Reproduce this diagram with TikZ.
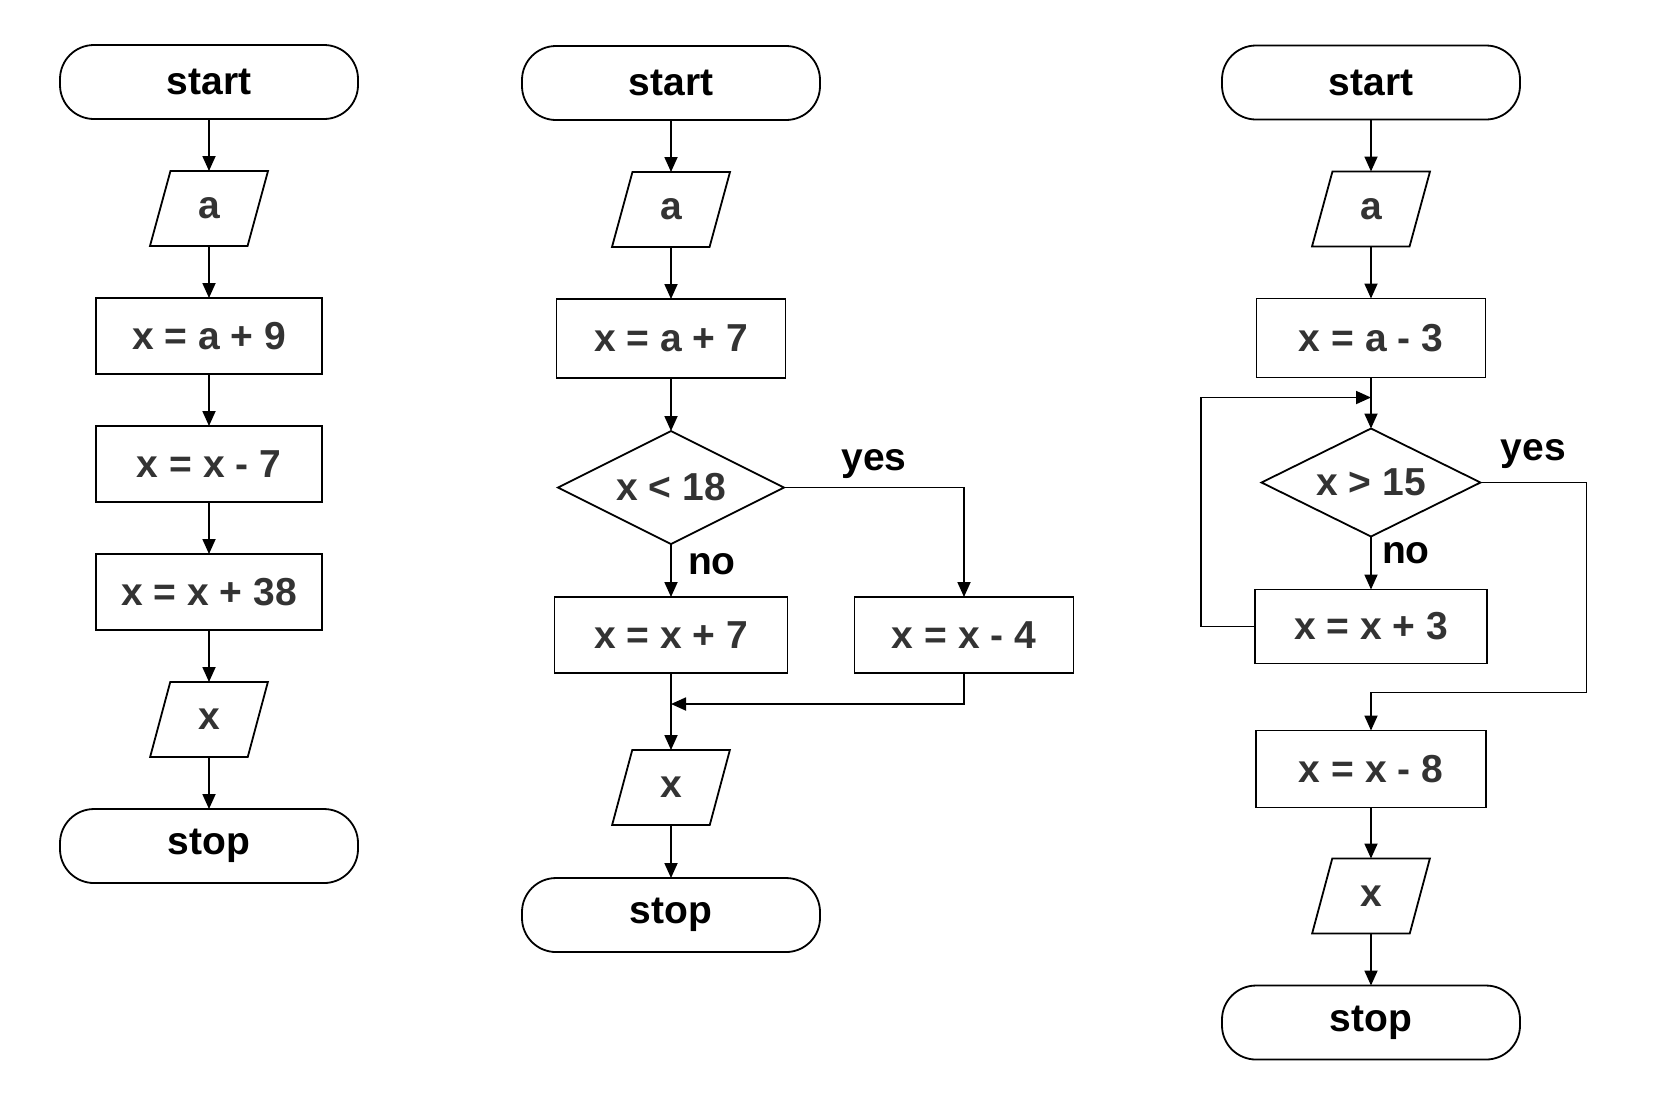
\documentclass[tikz,border=0pt]{standalone}
\usepackage{fontspec}
\setmainfont{Liberation Sans}
\usetikzlibrary{positioning,shapes.geometric,arrows.meta}
\definecolor{boxtext}{HTML}{333333}

\begin{document}
\begin{tikzpicture}[
x=0.5pt, y=-0.5pt,
every node/.style={font=\fontsize{19.5}{23}\selectfont\bfseries, outer sep=0pt},
termnode/.style={rectangle, rounded corners=17pt, draw, line width=0.9pt, minimum width=149pt, minimum height=37pt},
procnode/.style={rectangle, draw, line width=0.9pt, text=boxtext, minimum width=113pt, minimum height=38pt},
ionode/.style={trapezium, trapezium left angle=75, trapezium right angle=105, trapezium stretches=true, draw, line width=0.9pt, text=boxtext, minimum width=59pt, minimum height=37.5pt},
condnode/.style={diamond, shape aspect=2, draw, line width=0.9pt, text=boxtext, inner sep=0pt, minimum width=113pt, minimum height=56.5pt},
flow/.style={-{Triangle[length=7.5pt,width=6.5pt]}, line width=0.9pt},
lbl/.style={inner sep=0pt},
]
\useasboundingbox (0,0) rectangle (1667,1098);

%Nodes, first chart
\node[termnode]  (start1)  at (209,82)                 {start};
\node[ionode]    (in1)     [below=26pt of start1]      {a};
\node[procnode]  (calc11)  [below=26pt of in1]         {x = a + 9};
\node[procnode]  (calc12)  [below=26pt of calc11]      {x = x - 7};
\node[procnode]  (calc13)  [below=26pt of calc12]      {x = x + 38};
\node[ionode]    (out1)    [below=26pt of calc13]      {x};
\node[termnode]  (stop1)   [below=26pt of out1]        {stop};

%Nodes, second chart
\node[termnode]  (start2)  at (671,83)                 {start};
\node[ionode]    (in2)     [below=26pt of start2]      {a};
\node[procnode, minimum width=114.5pt, minimum height=39.5pt] (calc21) [below=26pt of in2] {x = a + 7};
\node[condnode]  (test2)   [below=26.5pt of calc21]    {x < 18};
\node[procnode, minimum width=116.5pt] (calc22) [below=26.5pt of test2] {x = x + 7};
\node[procnode, minimum width=109.5pt] (calc23) [right=33.5pt of calc22] {x = x - 4};
\coordinate[below=15.5pt of calc22] (join2);
\node[ionode]    (out2)    [below=38.5pt of calc22]    {x};
\node[termnode]  (stop2)   [below=26.5pt of out2]      {stop};

%Nodes, third chart
\node[termnode]  (start3)  at (1371,82.5)              {start};
\node[ionode]    (in3)     [below=26pt of start3]      {a};
\node[procnode, minimum width=114.5pt, minimum height=39.5pt] (calc31) [below=26pt of in3] {x = a - 3};
\coordinate[below=10pt of calc31] (join3);
\node[condnode, minimum width=109.5pt, minimum height=54pt] (test3) [below=25.5pt of calc31] {x > 15};
\node[procnode, minimum width=116pt, minimum height=37pt] (calc32) [below=26.5pt of test3] {x = x + 3};
\node[procnode, minimum width=115pt, minimum height=38.5pt] (calc33) [below=33.5pt of calc32] {x = x - 8};
\coordinate[above=19pt of calc33] (turn3);
\node[ionode]    (out3)    [below=25.5pt of calc33]    {x};
\node[termnode]  (stop3)   [below=26pt of out3]        {stop};

%Lines, first chart
\draw[flow] (start1.south) -- (in1.north);
\draw[flow] (in1.south) -- (calc11.north);
\draw[flow] (calc11.south) -- (calc12.north);
\draw[flow] (calc12.south) -- (calc13.north);
\draw[flow] (calc13.south) -- (out1.north);
\draw[flow] (out1.south) -- (stop1.north);

%Lines, second chart
\draw[flow] (start2.south) -- (in2.north);
\draw[flow] (in2.south) -- (calc21.north);
\draw[flow] (calc21.south) -- (test2.north);
\draw[flow] (test2.south) -- node[lbl, right=8.5pt, yshift=3pt] {no} (calc22.north);
\draw[flow] (test2.east) -| node[lbl, pos=0.25, above=4.5pt] {yes} (calc23.north);
\draw[flow] (calc23.south) |- (join2);
\draw[flow] (calc22.south) -- (out2.north);
\draw[flow] (out2.south) -- (stop2.north);

%Lines, third chart
\draw[flow] (start3.south) -- (in3.north);
\draw[flow] (in3.south) -- (calc31.north);
\draw[flow] (calc31.south) -- (test3.north);
\draw[flow] (test3.south) -- node[lbl, right=5.5pt, yshift=4.75pt] {no} (calc32.north);
\draw[flow] (calc32.west) -- ++(-54,0) |- (join3);
\draw[flow] (test3.east) -- node[lbl, above=7pt] {yes} ++(106,0) |- (turn3) -- (calc33.north);
\draw[flow] (calc33.south) -- (out3.north);
\draw[flow] (out3.south) -- (stop3.north);
\end{tikzpicture}
\end{document}
